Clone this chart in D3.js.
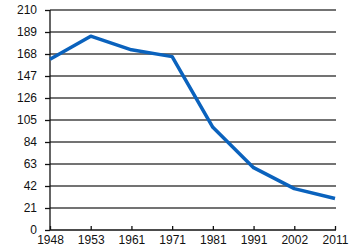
<!DOCTYPE html>
<html>
<head>
<meta charset="utf-8">
<script src="https://cdn.jsdelivr.net/npm/d3@7"></script>
<style>
  body { margin: 0; background: #fff; }
</style>
</head>
<body>
<svg id="chart" width="350" height="250"></svg>
<script>
// 数据
const years = ["1948", "1953", "1961", "1971", "1981", "1991", "2002", "2011"];
const values = [163, 185, 172, 165.5, 98, 59.5, 39.5, 30];
const yTicks = [0, 21, 42, 63, 84, 105, 126, 147, 168, 189, 210];

const FONT = "'Liberation Sans Narrow', 'Liberation Sans', Arial, sans-serif";

const svg = d3.select("#chart");

const xScale = d3.scalePoint()
  .domain(years)
  .range([50, 335]);

const yScale = d3.scaleLinear()
  .domain([0, 210])
  .range([230, 10]);

// 网格线
svg.append("g")
  .selectAll("line")
  .data(yTicks.filter(d => d > 0))
  .enter()
  .append("line")
  .attr("x1", 50)
  .attr("x2", 336)
  .attr("y1", d => yScale(d))
  .attr("y2", d => yScale(d))
  .style("stroke", "#444")
  .style("stroke-width", 1.3);

// y轴
const yAxis = d3.axisLeft(yScale)
  .tickValues(yTicks)
  .tickSize(5)
  .tickPadding(8);

svg.append("g")
  .attr("transform", "translate(50,0)")
  .call(yAxis)
  .call(g => g.selectAll("path, line").style("stroke", "#111").style("stroke-width", 1.3))
  .call(g => g.select(".domain").attr("d", "M0,10V230"))
  .call(g => g.selectAll("text").style("font-family", FONT).style("font-size", "12px").style("fill", "#111"));

// x轴
const xAxis = d3.axisBottom(xScale)
  .tickSizeInner(-4)
  .tickSizeOuter(0)
  .tickPadding(4);

svg.append("g")
  .attr("transform", "translate(0,230)")
  .call(xAxis)
  .call(g => g.selectAll("path, line").style("stroke", "#111").style("stroke-width", 1.3))
  .call(g => g.select(".domain").attr("d", "M50,0H336"))
  .call(g => g.selectAll("text").attr("y", 5).style("font-family", FONT).style("font-size", "12px").style("fill", "#111"));

// 折线
const line = d3.line()
  .x((d, i) => xScale(years[i]))
  .y(d => yScale(d));

svg.append("path")
  .datum(values)
  .attr("d", line)
  .style("fill", "none")
  .style("stroke", "#0a62bd")
  .style("stroke-width", 3.5)
  .style("stroke-linejoin", "round");
</script>
</body>
</html>
